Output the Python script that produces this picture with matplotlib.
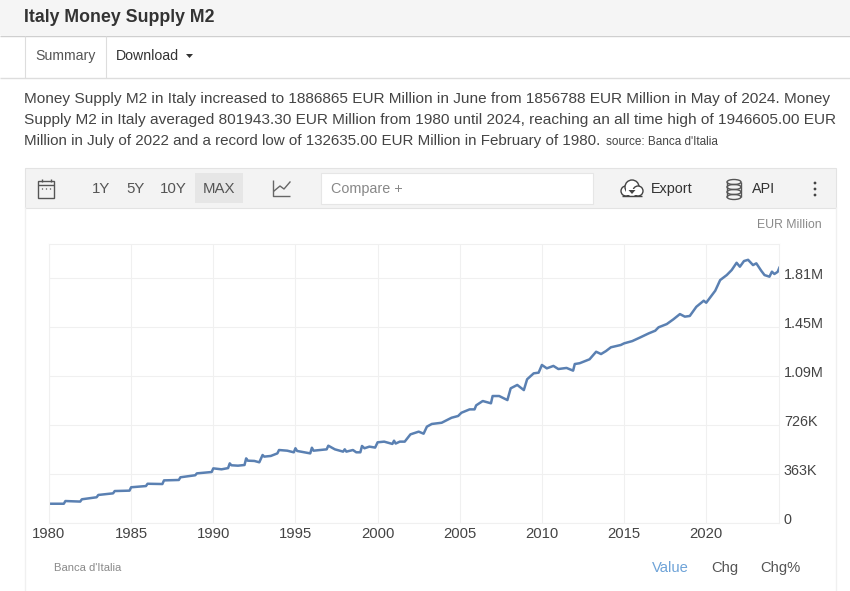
import matplotlib
matplotlib.use("Agg")
import matplotlib.pyplot as plt
from matplotlib.patches import Rectangle, Ellipse, Circle, Polygon
from matplotlib.transforms import ScaledTranslation

years = [1980.1,1980.9,1981.0,1981.9,1982.0,1982.9,1983.0,1983.9,1984.0,1984.9,1985.0,1985.9,1986.0,1986.9,
         1987.0,1987.9,1988.0,1988.9,1989.0,1989.9,1990.0,1990.5,1990.9,1991.0,1991.1,1991.5,1991.9,1992.0,1992.1,1992.5,
         1992.8,1993.0,1993.1,1993.5,1993.9,1994.0,1994.5,1994.9,1995.0,1995.1,1995.9,1996.0,1996.1,1996.9,
         1997.0,1997.4,1997.9,1998.0,1998.1,1998.5,1998.7,1998.95,1999.05,1999.2,1999.5,1999.85,2000.0,2000.4,
         2000.9,2001.0,2001.1,2001.35,2001.65,2002.0,2002.5,2002.8,2003.0,2003.3,2003.9,2004.5,2004.9,2005.1,
         2005.6,2005.9,2006.0,2006.4,2006.9,2007.0,2007.4,2007.9,2008.1,2008.5,2008.9,2009.1,2009.5,2009.8,
         2010.0,2010.3,2010.7,2011.0,2011.5,2011.9,2012.0,2012.3,2012.9,2013.3,2013.6,2013.9,2014.2,2014.8,
         2015.0,2015.5,2016.0,2016.5,2016.9,2017.1,2017.6,2018.0,2018.4,2018.7,2019.0,2019.4,2019.85,2020.0,
         2020.55,2020.85,2021.25,2021.55,2021.85,2022.05,2022.3,2022.55,2022.85,2023.05,2023.35,2023.55,2023.85,
         2024.0,2024.15,2024.35,2024.45]
values_k = [139,139,159,155,172,187,204,216,233,236,261,270,287,285,
            312,315,335,350,364,374,401,394,403,438,424,421,426,475,458,456,
            446,500,488,493,512,537,532,520,550,530,512,554,532,542,
            569,542,525,542,525,537,520,520,567,550,562,555,594,599,
            582,606,585,599,599,653,673,658,710,730,739,776,789,813,
            838,838,868,900,883,937,937,907,994,1019,981,1061,1105,1110,
            1167,1142,1160,1137,1145,1125,1174,1180,1209,1265,1248,1270,1298,1315,
            1327,1344,1372,1401,1421,1446,1470,1505,1544,1525,1530,1598,1643,1628,
            1717,1796,1833,1870,1924,1895,1937,1946,1907,1920,1865,1833,1821,
            1858,1841,1857,1887]
x_ticks = [1980,1985,1990,1995,2000,2005,2010,2015,2020]
y_ticks_k = [0,363,726,1089,1452,1815]
y_labels = ["0","363K","726K","1.09M","1.45M","1.81M"]

title = "Italy Money Supply M2"
desc = ["Money Supply M2 in Italy increased to 1886865 EUR Million in June from 1856788 EUR Million in May of 2024. Money",
        "Supply M2 in Italy averaged 801943.30 EUR Million from 1980 until 2024, reaching an all time high of 1946605.00 EUR",
        "Million in July of 2022 and a record low of 132635.00 EUR Million in February of 1980."]

W, H = 850, 591
plt.rcParams['font.family'] = ['Liberation Sans', 'DejaVu Sans']
fig = plt.figure(figsize=(W/100, H/100), dpi=100, facecolor='white')

# page chrome, in pixel coordinates
bg = fig.add_axes([0, 0, 1, 1])
bg.set_xlim(0, W); bg.set_ylim(H, 0); bg.axis('off')
def T(x, y, s, size, color='#444444', **kw):
    kw.setdefault('va', 'center')
    return bg.text(x, y, s, fontsize=size, color=color, **kw)
def L(xs, ys, color='#dddddd', lw=0.8):
    bg.plot(xs, ys, color=color, lw=lw, solid_capstyle='butt')

bg.add_patch(Rectangle((0, 0), W, 35, fc='#f5f5f5', ec='none'))
L([0, W], [35.5, 35.5], '#cfcfcf', 1)
T(24, 17, title, 12.8, '#333333', fontweight='bold')
L([0, W], [77.5, 77.5], '#dddddd', 1)
bg.add_patch(Rectangle((25, 36), 81, 42, fc='white', ec='none'))
L([25, 25], [36, 78]); L([106, 106], [36, 78])
T(35, 56, "Summary", 10.2, '#555555')
T(116, 56, "Download", 10.2, '#333333')
bg.add_patch(Polygon([[186, 54], [193, 54], [189.5, 58]], fc='#333333', ec='none'))

for i, (s, size) in enumerate(zip(desc, (11.1, 11.1, 10.93))):
    T(24, 98.5 + i*21.2, s, size, '#444444')
T(606, 142, "source: Banca d'Italia", 8.5, '#444444')

# toolbar
bg.add_patch(Rectangle((25, 168), 811, 39.5, fc='#f3f3f3', ec='#e3e3e3', lw=0.8))
bg.add_patch(Rectangle((38.5, 181), 16, 17, fc='none', ec='#555555', lw=1))
L([38.5, 54.5], [185, 185], '#555555', 1)
L([42, 42], [179, 182], '#555555', 1); L([51, 51], [179, 182], '#555555', 1)
for px in (42.5, 46.5, 50.5):
    bg.add_patch(Circle((px, 189), 0.7, fc='#555555', ec='none'))
for x, s in [(92, "1Y"), (126, "5Y"), (160, "10Y")]:
    T(x, 189, s, 10.8, '#555555')
bg.add_patch(Rectangle((195, 173), 48, 30, fc='#e6e6e6', ec='none'))
T(203, 189, "MAX", 10.8, '#555555')
L([273.5, 273.5, 290], [180, 196, 196], '#666666', 1)
bg.plot([274, 280, 284, 290], [191, 186, 189, 182], color='#666666', lw=1)
bg.add_patch(Rectangle((321, 172.5), 272, 31, fc='white', ec='#e6e6e6', lw=0.8))
T(331, 188.5, "Compare +", 10.4, '#888888')
# cloud icon
for c, r in [((626, 191), 5), ((632, 187), 7), ((638, 191), 5)]:
    bg.add_patch(Circle(c, r, fc='white', ec='#444444', lw=1))
bg.add_patch(Rectangle((626, 189), 12, 6, fc='white', ec='none', zorder=3))
L([622, 642], [196, 196], '#444444', 1)
bg.add_patch(Polygon([[628.5, 190], [635.5, 190], [632, 194]], fc='#444444', ec='none', zorder=4))
T(651, 189, "Export", 10.4, '#333333')
# database icon
for y0 in (182, 187, 192, 197):
    bg.add_patch(Ellipse((734, y0), 14, 5, fc='none', ec='#555555', lw=1))
L([727, 727], [182, 197], '#555555', 1); L([741, 741], [182, 197], '#555555', 1)
T(752, 189, "API", 10.4, '#333333')
for y0 in (183, 189, 195):
    bg.add_patch(Circle((815, y0), 1.4, fc='#444444', ec='none'))

# chart frame
L([25, 25], [207, 591], '#f0f0f0', 1); L([836, 836], [207, 591], '#f0f0f0', 1)
T(822, 224.5, "EUR Million", 8.8, '#8a8a8a', ha='right')
T(54, 568, "Banca d'Italia", 8.1, '#8a8a8a')
T(652, 568, "Value", 10.6, '#6ea3d8')
T(711, 568, "Chg", 10.6, '#555555')
T(760, 568, "Chg%", 10.6, '#555555')

# the chart
px_left, px_right, px_top, px_bottom = 49, 779, 244, 522.5
ax = fig.add_axes([px_left/W, 1-px_bottom/H, (px_right-px_left)/W, (px_bottom-px_top)/H])
ax.patch.set_alpha(0)
ax.set_xlim(1980, 1980 + (px_right-px_left)/16.43)
ax.set_ylim(0, (px_bottom-px_top)/49*363)
for s in ax.spines.values():
    s.set_color('#f0f0f0'); s.set_linewidth(0.8)
ax.set_xticks(x_ticks)
ax.set_yticks(y_ticks_k)
ax.grid(True, color='#f0f0f0', lw=0.8)
ax.set_axisbelow(True)
ax.tick_params(length=0)
ax.set_xticklabels([str(v) for v in x_ticks], fontsize=10.7, color='#444444')
ax.tick_params(axis='x', pad=3)
ax.yaxis.tick_right()
ax.set_yticklabels(y_labels, fontsize=10.4, color='#444444', va='center')
ax.tick_params(axis='y', pad=3.5)
up = ScaledTranslation(0, 2.5/100, fig.dpi_scale_trans)
for lab in ax.get_yticklabels():
    lab.set_transform(lab.get_transform() + up)
ax.plot(years, values_k, color='#5a80b2', lw=1.8, solid_joinstyle='round')

fig.savefig('out.png', dpi=100)
